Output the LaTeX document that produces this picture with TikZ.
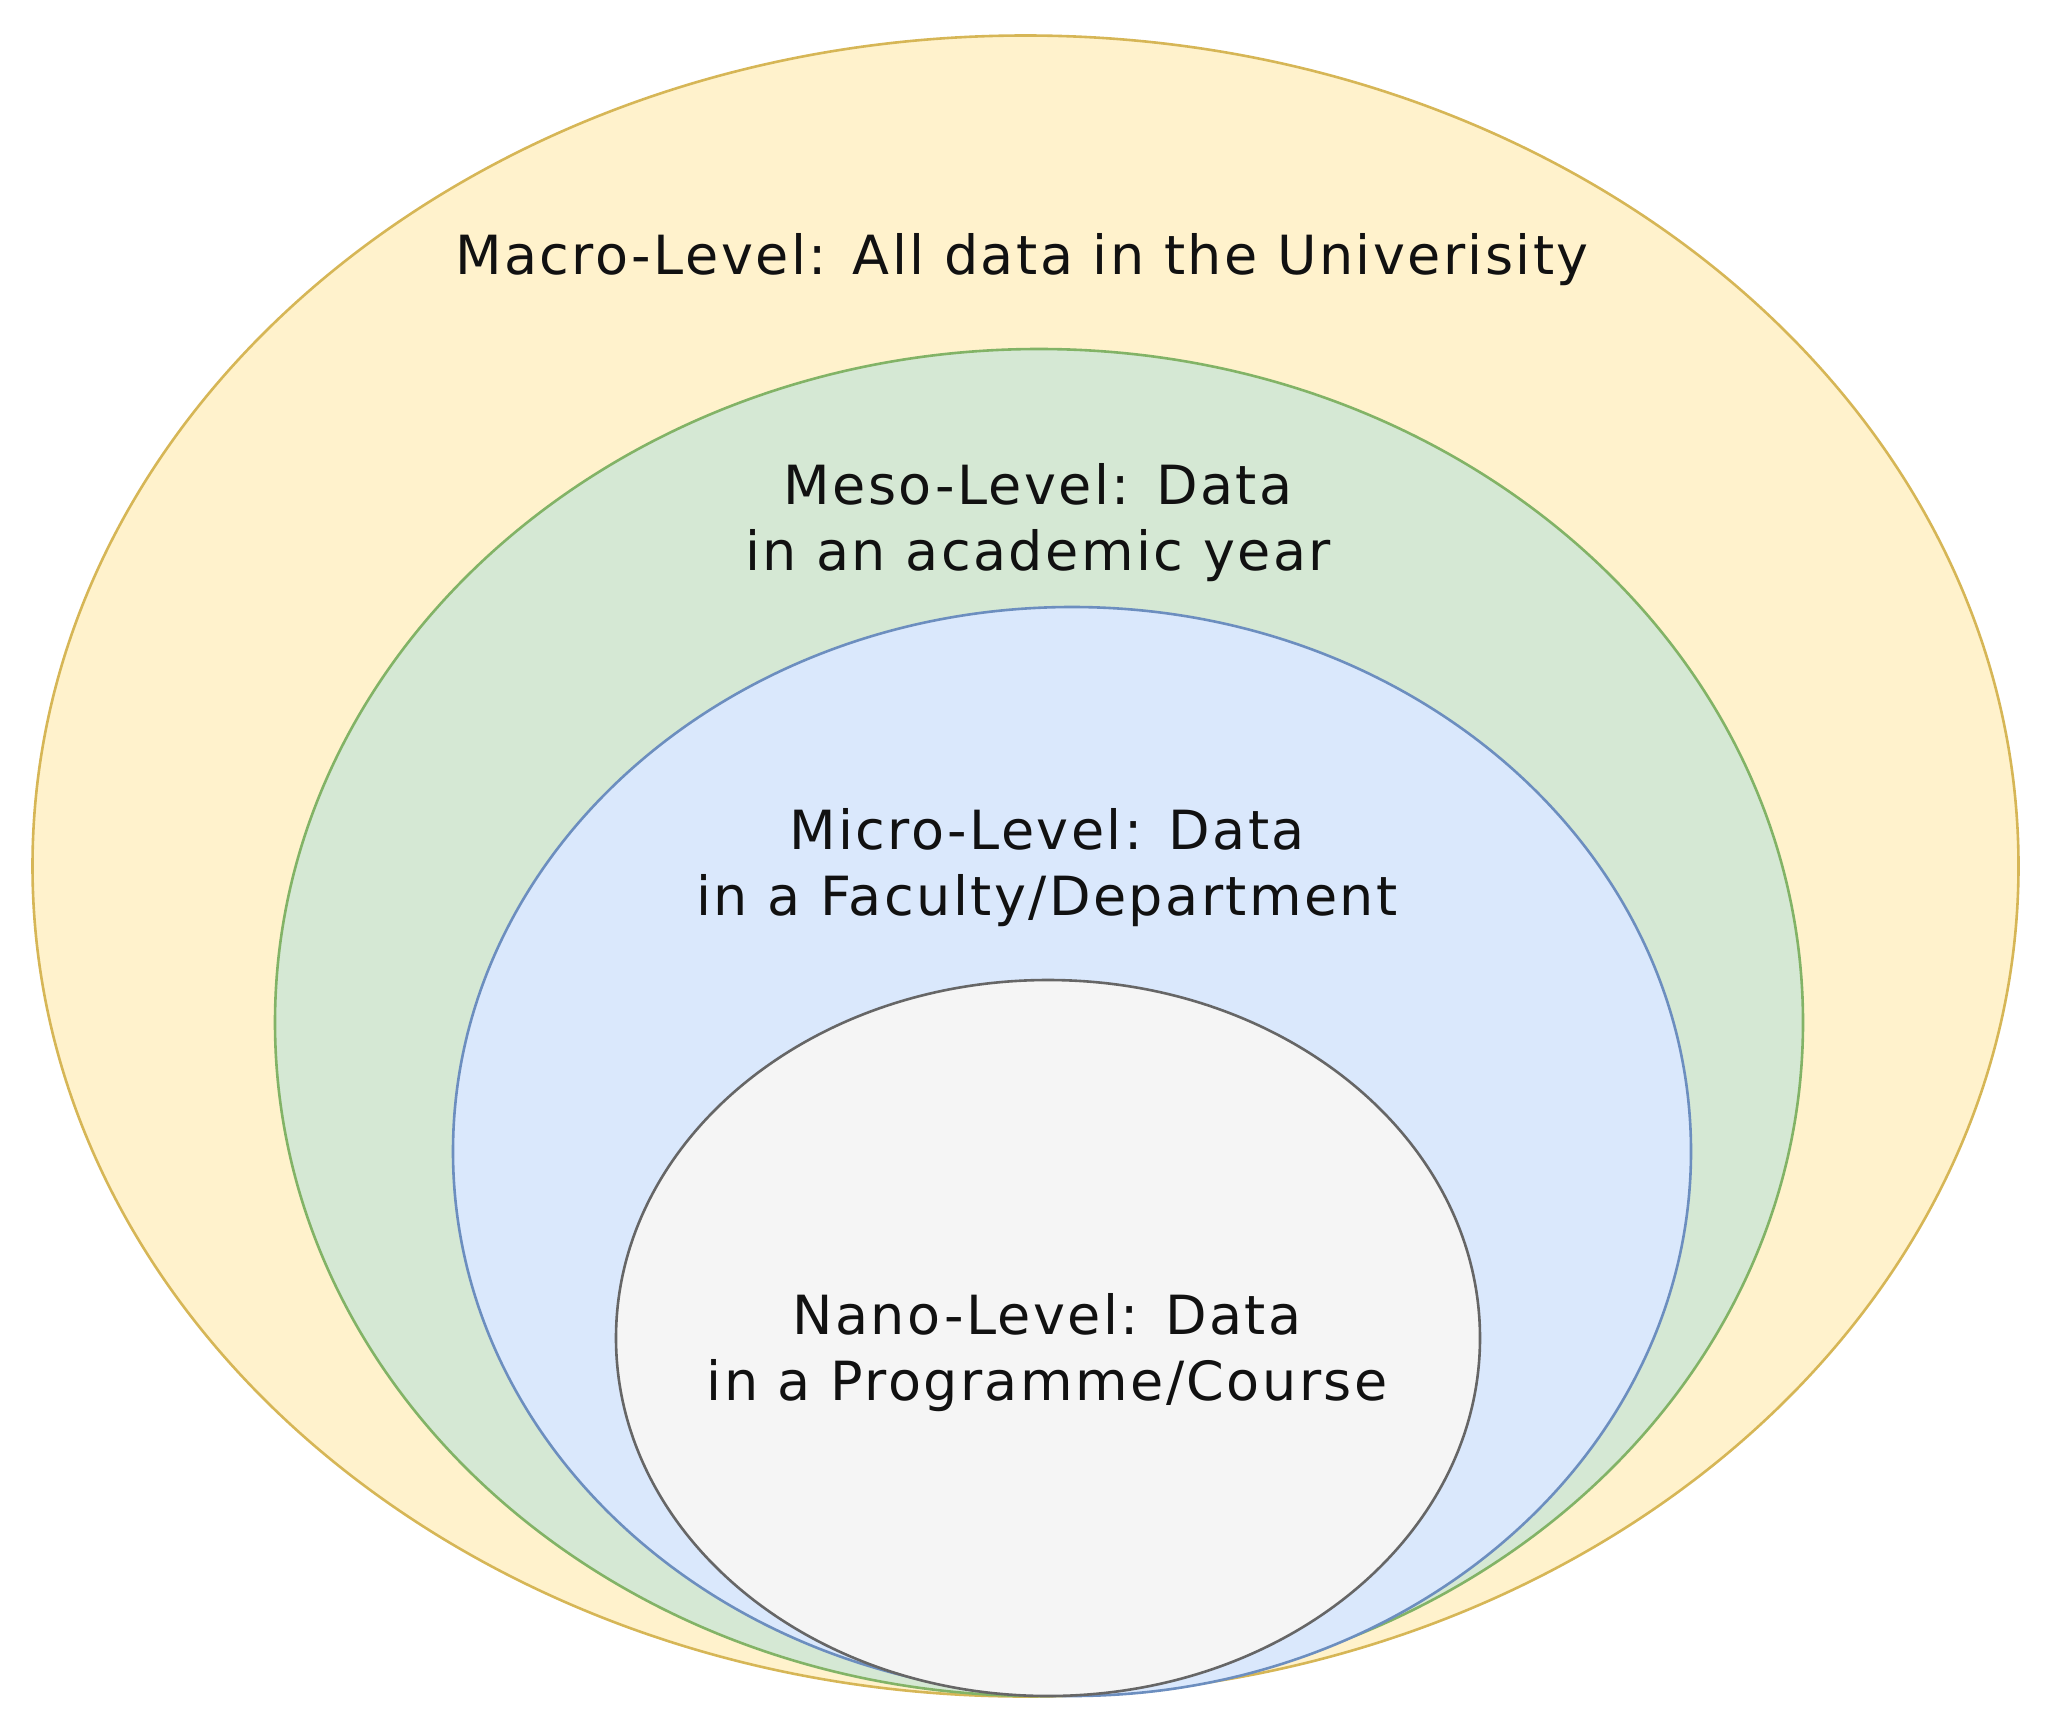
\documentclass[tikz,border=0pt]{standalone}
\usepackage{fontspec}
\setmainfont{DejaVu Sans}[LetterSpace=4.5]
\usetikzlibrary{shapes.geometric}
\definecolor{macrofill}{HTML}{FFF2CC}\definecolor{macrodraw}{HTML}{D6B656}
\definecolor{mesofill}{HTML}{D5E8D4}\definecolor{mesodraw}{HTML}{82B366}
\definecolor{microfill}{HTML}{DAE8FC}\definecolor{microdraw}{HTML}{6C8EBF}
\definecolor{nanofill}{HTML}{F5F5F5}\definecolor{nanodraw}{HTML}{666666}
\definecolor{txt}{HTML}{111111}
\begin{document}
\begin{tikzpicture}[x=0.5pt,y=-0.5pt,
  lvl/.style={ellipse,inner sep=0pt,line width=1.3pt},
  lbl/.style={anchor=base,align=center,inner sep=0pt,text=txt,font=\fontsize{27}{33}\selectfont}]
\useasboundingbox (0,0) rectangle (2046,1724);
\node[lvl,fill=macrofill,draw=macrodraw,minimum width=993pt,minimum height=830.5pt] (macro) at (1025.5,866) {};
\node[lvl,fill=mesofill,draw=mesodraw,minimum width=764pt,minimum height=673.5pt] (meso) at (1039,1022.5) {};
\node[lvl,fill=microfill,draw=microdraw,minimum width=619pt,minimum height=544.5pt] (micro) at (1072,1151.5) {};
\node[lvl,fill=nanofill,draw=nanodraw,minimum width=432pt,minimum height=358pt] (nano) at (1048,1338) {};
\node[lbl] (macrot) at (1022,274) {Macro-Level: All data in the Univerisity};
\node[lbl] (mesot) at (1038,570) {Meso-Level: Data\\in an academic year};
\node[lbl] (microt) at (1047,915) {Micro-Level: Data\\in a Faculty/Department};
\node[lbl] (nanot) at (1047,1400) {Nano-Level: Data\\in a Programme/Course};
\end{tikzpicture}
\end{document}
